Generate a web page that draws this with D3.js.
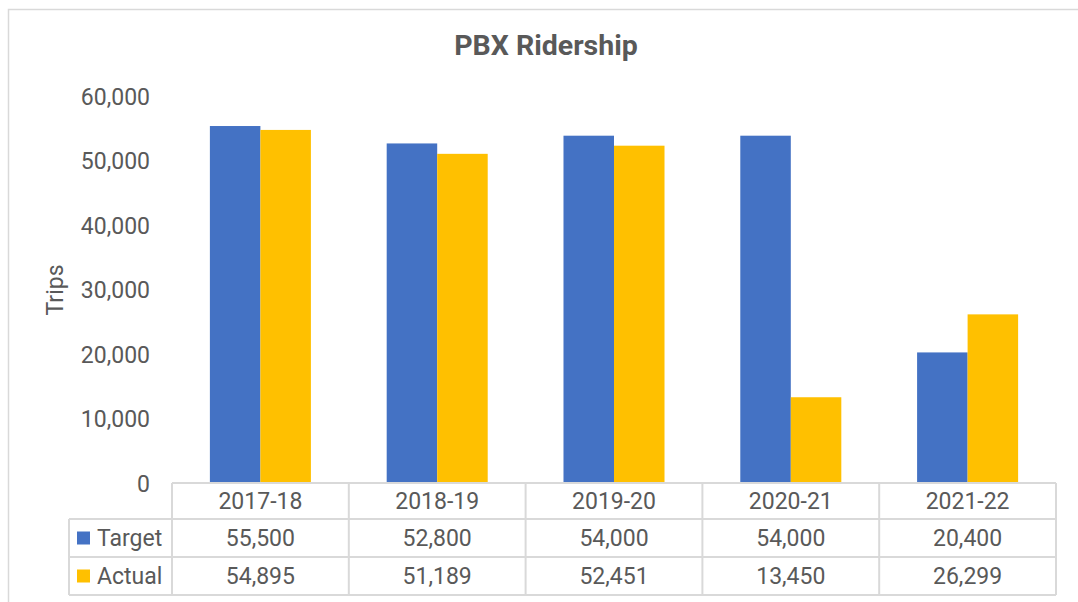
<!DOCTYPE html>
<html><head><meta charset="utf-8">
<script src="https://cdn.jsdelivr.net/npm/d3@7"></script>
<style>body{margin:0;background:#fff;font-family:Roboto,"Noto Sans",sans-serif;}</style>
</head><body>
<svg id="c" width="1078" height="602"></svg>
<script>
const categories = ["2017-18","2018-19","2019-20","2020-21","2021-22"];
const seriesNames = ["Target","Actual"];
const targetValues = [55500,52800,54000,54000,20400];
const actualValues = [54895,51189,52451,13450,26299];
const yTicks = [0,10000,20000,30000,40000,50000,60000];
const colors = ["#4472C4","#FFC000"];
const title = "PBX Ridership";
const yTitle = "Trips";

const series = [targetValues, actualValues];
const svg = d3.select("#c");
const txt = "#595959", grid = "#d9d9d9";
const fmt = d3.format(",");

// outer border
svg.append("rect").attr("x",8.5).attr("y",9.5).attr("width",1200).attr("height",800)
  .attr("fill","#fff").attr("stroke",grid).attr("stroke-width",1.5);

svg.append("text").attr("x",546).attr("y",55).attr("text-anchor","middle")
  .attr("font-size",28.5).attr("font-weight","bold").attr("fill",txt).text(title);

const x0 = d3.scaleBand().domain(categories).range([172,1056]).padding(0);
const bw = x0.bandwidth();
const x1 = d3.scaleBand().domain(seriesNames).range([bw*0.2143, bw*0.7857]).padding(0);
const y = d3.scaleLinear().domain([0,60000]).range([484,97]);

// y axis
const yAxis = d3.axisLeft(y).tickValues(yTicks).tickFormat(fmt).tickSize(0).tickPadding(0);
const gy = svg.append("g").attr("transform","translate(150,0)").call(yAxis);
gy.select(".domain").remove();
gy.selectAll("text").attr("font-size",23).attr("fill",txt).attr("font-family","Roboto");

svg.append("text").attr("transform","translate(63,290) rotate(-90)").attr("text-anchor","middle")
  .attr("font-size",23).attr("fill",txt).text(yTitle);

// bars
seriesNames.forEach((s,si)=>{
  svg.append("g").selectAll("rect").data(categories).join("rect")
    .attr("x",c=>x0(c)+x1(s)).attr("width",x1.bandwidth())
    .attr("y",(c,i)=>y(series[si][i])).attr("height",(c,i)=>y(0)-y(series[si][i]))
    .attr("fill",colors[si]);
});

// data table
const rowTop = 483, rowH = [36,38,38];
const rows = [rowTop, rowTop+rowH[0], rowTop+rowH[0]+rowH[1], rowTop+rowH[0]+rowH[1]+rowH[2]];
const legL = 69, tabR = 1056;
const g = svg.append("g").attr("stroke",grid).attr("stroke-width",2).attr("fill","none");
g.append("line").attr("x1",172).attr("x2",tabR).attr("y1",rows[0]).attr("y2",rows[0]);
[1,2,3].forEach(r=>g.append("line").attr("x1",legL).attr("x2",tabR).attr("y1",rows[r]).attr("y2",rows[r]));
g.append("line").attr("x1",legL).attr("x2",legL).attr("y1",rows[1]).attr("y2",rows[3]);
categories.forEach(c=>g.append("line").attr("x1",x0(c)).attr("x2",x0(c)).attr("y1",rows[0]).attr("y2",rows[3]));
g.append("line").attr("x1",tabR).attr("x2",tabR).attr("y1",rows[0]).attr("y2",rows[3]);

const t = svg.append("g").attr("font-size",23).attr("fill",txt).attr("text-anchor","middle");
categories.forEach((c,i)=>{
  t.append("text").attr("x",x0(c)+bw/2).attr("y",(rows[0]+rows[1])/2).attr("dy","0.35em").text(c);
  series.forEach((vals,si)=>{
    t.append("text").attr("x",x0(c)+bw/2).attr("y",(rows[si+1]+rows[si+2])/2).attr("dy","0.35em").text(fmt(vals[i]));
  });
});
seriesNames.forEach((s,si)=>{
  const cy = (rows[si+1]+rows[si+2])/2;
  svg.append("rect").attr("x",77).attr("y",cy-6.5).attr("width",13).attr("height",13).attr("fill",colors[si]);
  svg.append("text").attr("x",97).attr("y",cy).attr("dy","0.35em").attr("font-size",23).attr("fill",txt).text(s);
});
</script>
</body></html>
